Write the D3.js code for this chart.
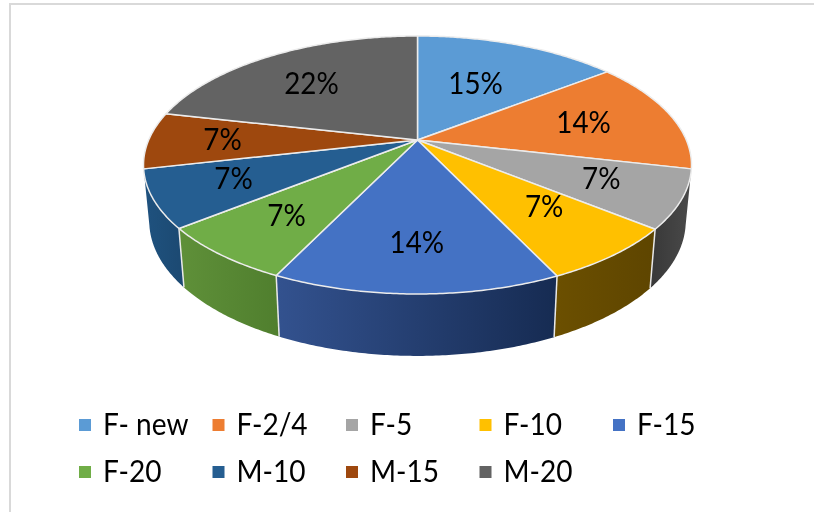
<!DOCTYPE html>
<html><head><meta charset="utf-8">
<script src="https://cdn.jsdelivr.net/npm/d3@7/dist/d3.min.js"></script>
<style>html,body{margin:0;padding:0;background:#fff}svg{display:block;filter:blur(0.35px)}</style>
</head><body><div id="c"></div>
<script>
const categories = ["F- new","F-2/4","F-5","F-10","F-15","F-20","M-10","M-15","M-20"];
const shares = [14.5,14.1,7.3,7.1,14.2,7.1,7.2,7.1,21.5];
const colors = ["#5B9BD5","#ED7D31","#A5A5A5","#FFC000","#4472C4","#70AD47","#255E91","#9E480E","#636363"];
const sideStart = {2:"#4a4a4a",3:"#6b4f00",4:"#33528f",5:"#5f9039",6:"#1f527f"};
const sideEnd   = {2:"#3a3a3a",3:"#5e4500",4:"#162b52",5:"#507f2e",6:"#1c4a73"};

const W=814,H=512;
const svg=d3.select("#c").append("svg").attr("width",W).attr("height",H);
svg.append("path").attr("d",`M10,${H}V4H${W}`).attr("fill","none").attr("stroke","#d9d9d9").attr("stroke-width",2);

const tilt=0.1938;
const px=d3.scaleLinear().domain([-1,1]).range([417.5-268.8,417.5+268.8]);
const py=d3.scaleLinear().domain([-1,1]).range([140-124.15,140+124.15]);
const project=(a,r=1)=>{const u=r*Math.sin(a),v=-r*Math.cos(a),w=1-tilt*v;return [px(u/w),py(v/w)];};
const lowerX=d3.scaleLinear().domain([417.5-100,417.5+100]).range([417.5-97.9,417.5+97.9]);
const lowerY=d3.scaleLinear().domain([140,240]).range([195,299.5]);
const lower=a=>{const p=project(a);return [lowerX(p[0]),lowerY(p[1])];};
const line=d3.line();
const arcAngles=(a,b)=>{const n=Math.max(2,Math.ceil((b-a)/0.01));return d3.range(n+1).map(i=>a+(b-a)*i/n);};

const arcs=d3.pie().sort(null).value(d=>d)(shares);
const defs=svg.append("defs");

const sides=arcs.map((d,i)=>({d,i})).filter(o=>sideStart[o.i]);
sides.forEach(({d,i})=>{
  const A=arcAngles(d.startAngle,d.endAngle);
  const ext=d3.extent(A.map(a=>project(a)[0]));
  const g=defs.append("linearGradient").attr("id","s"+i).attr("gradientUnits","userSpaceOnUse")
    .attr("x1",ext[0]).attr("x2",ext[1]).attr("y1",0).attr("y2",0);
  g.append("stop").attr("offset",0).attr("stop-color",i===2?sideEnd[i]:sideStart[i]);
  g.append("stop").attr("offset",1).attr("stop-color",i===2?sideStart[i]:sideEnd[i]);
});
svg.append("g").selectAll("path").data(sides).join("path")
  .attr("d",({d})=>{const A=arcAngles(d.startAngle,d.endAngle);
    return line(A.map(a=>project(a)).concat(A.slice().reverse().map(lower)))+"Z";})
  .attr("fill",o=>`url(#s${o.i})`).attr("stroke","none");
svg.append("g").selectAll("path").data(sides.slice(1)).join("path")
  .attr("d",({d})=>line([project(d.startAngle),lower(d.startAngle)]))
  .attr("stroke","#e9e9e9").attr("stroke-width",1.5).attr("fill","none");

svg.append("g").selectAll("path").data(arcs).join("path")
  .attr("d",d=>line([project(0,0)].concat(arcAngles(d.startAngle,d.endAngle).map(a=>project(a))))+"Z")
  .attr("fill",(d,i)=>colors[i]).attr("stroke","#ececec").attr("stroke-width",1.5).attr("stroke-linejoin","round");

const labelRadius=[.55,.65,.71,.65,.715,.70,.71,.725,.66];
const labelNudge=[-.01,0,-.02,-.05,0,0,.02,0,-.04];
const fmt=d3.format(".0f");
const font="Lato, 'Open Sans', sans-serif";
svg.append("g").selectAll("text").data(arcs).join("text")
  .attr("transform",(d,i)=>{const p=project((d.startAngle+d.endAngle)/2+labelNudge[i],labelRadius[i]);return `translate(${p[0]},${p[1]+10}) scale(1.03,1.16)`;})
  .attr("text-anchor","middle").attr("font-family",font).attr("font-size",27).attr("fill","#000")
  .text(d=>fmt(d.value)+"%");

const legX=d3.scalePoint().domain(d3.range(5)).range([79,613]);
const legY=d3.scalePoint().domain([0,1]).range([419,466]);
const leg=svg.append("g").selectAll("g").data(categories).join("g")
  .attr("transform",(d,i)=>`translate(${legX(i%5)},${legY(Math.floor(i/5))})`);
leg.append("rect").attr("width",12).attr("height",12).attr("fill",(d,i)=>colors[i]);
leg.append("text").attr("transform","translate(24,15.5) scale(1.04,1.16)").attr("font-family",font).attr("font-size",27).attr("fill","#000").text(d=>d);
</script></body></html>
